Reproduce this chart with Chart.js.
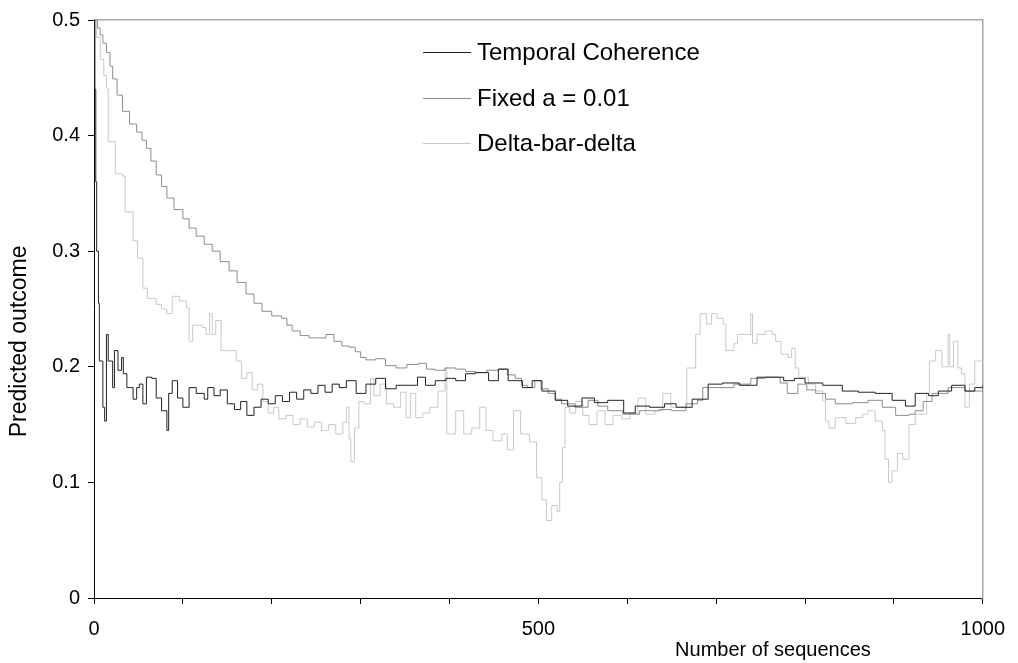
<!DOCTYPE html>
<html>
<head>
<meta charset="utf-8">
<script src="https://cdn.jsdelivr.net/npm/chart.js@4.4.1/dist/chart.umd.min.js"></script>
<style>
  html, body { margin: 0; padding: 0; background: #fff; }
  #wrap { position: relative; width: 1018px; height: 663px; }
  #legend { position: absolute; left: 423px; top: 0; font-family: "Liberation Sans", Arial, sans-serif; font-size: 24px; color: #000; }
  #legend .item { position: absolute; left: 0; height: 30px; display: flex; align-items: center; white-space: nowrap; }
  #legend .sw { display: inline-block; width: 48px; border-top: 1px solid #000; margin-right: 6px; }
</style>
</head>
<body>
<div id="wrap">
  <canvas id="chart" width="1018" height="663"></canvas>
  <div id="legend"></div>
</div>
<script>
// series (x = number of sequences, y = predicted outcome)
const seriesNames = ['Temporal Coherence', 'Fixed a = 0.01', 'Delta-bar-delta'];
const seriesColors = ['#222222', '#8c8c8c', '#c8c8c8'];

const tcX = [0, 1, 2, 3, 5, 6, 8, 10, 12, 14, 16, 19, 21, 23, 27, 31, 33, 37, 40, 44, 48, 51, 55, 59, 65, 70, 76, 82, 84, 88, 94, 100, 107, 115, 124, 128, 135, 142, 150, 158, 165, 172, 180, 188, 196, 204, 212, 220, 228, 236, 244, 252, 260, 268, 276, 284, 295, 306, 317, 328, 340, 351, 364, 373, 384, 396, 407, 418, 429, 444, 455, 466, 482, 493, 504, 519, 533, 549, 563, 578, 596, 609, 625, 642, 655, 673, 691, 707, 726, 746, 760, 776, 788, 800, 820, 842, 860, 879, 898, 913, 924, 939, 950, 965, 980, 991, 1000];
const tcY = [0.5, 0.44, 0.36, 0.3, 0.255, 0.205, 0.205, 0.165, 0.153, 0.228, 0.205, 0.205, 0.182, 0.214, 0.197, 0.208, 0.194, 0.182, 0.182, 0.172, 0.182, 0.185, 0.168, 0.191, 0.19, 0.173, 0.162, 0.145, 0.177, 0.188, 0.173, 0.165, 0.182, 0.177, 0.172, 0.182, 0.175, 0.18, 0.168, 0.163, 0.17, 0.158, 0.165, 0.172, 0.168, 0.175, 0.17, 0.178, 0.172, 0.18, 0.177, 0.184, 0.178, 0.185, 0.182, 0.188, 0.177, 0.185, 0.19, 0.181, 0.184, 0.184, 0.191, 0.184, 0.188, 0.19, 0.188, 0.194, 0.195, 0.188, 0.198, 0.188, 0.182, 0.188, 0.179, 0.171, 0.166, 0.173, 0.169, 0.171, 0.16, 0.166, 0.165, 0.168, 0.165, 0.172, 0.185, 0.186, 0.184, 0.191, 0.191, 0.188, 0.19, 0.186, 0.184, 0.179, 0.178, 0.177, 0.171, 0.166, 0.177, 0.175, 0.179, 0.184, 0.179, 0.182, 0.184];

const fixedX = [0, 4, 7, 10, 14, 18, 21, 26, 32, 40, 48, 54, 59, 64, 70, 76, 82, 90, 100, 107, 115, 124, 133, 142, 152, 161, 171, 180, 189, 200, 211, 217, 223, 232, 242, 252, 261, 270, 279, 287, 294, 300, 306, 317, 328, 340, 352, 365, 374, 384, 395, 407, 418, 429, 442, 455, 465, 474, 481, 488, 496, 503, 511, 519, 526, 541, 556, 567, 578, 595, 614, 636, 650, 658, 666, 679, 685, 700, 720, 739, 755, 772, 780, 792, 802, 812, 823, 834, 853, 871, 887, 902, 917, 924, 933, 943, 961, 980, 1000];
const fixedY = [0.5, 0.493, 0.487, 0.48, 0.472, 0.46, 0.449, 0.435, 0.421, 0.41, 0.403, 0.396, 0.389, 0.378, 0.366, 0.356, 0.346, 0.336, 0.328, 0.32, 0.313, 0.306, 0.3, 0.291, 0.283, 0.273, 0.263, 0.255, 0.248, 0.244, 0.242, 0.236, 0.231, 0.227, 0.225, 0.225, 0.228, 0.222, 0.218, 0.217, 0.213, 0.208, 0.206, 0.207, 0.201, 0.199, 0.202, 0.203, 0.198, 0.197, 0.199, 0.198, 0.196, 0.195, 0.197, 0.198, 0.193, 0.19, 0.184, 0.182, 0.188, 0.181, 0.177, 0.172, 0.168, 0.165, 0.171, 0.166, 0.162, 0.159, 0.162, 0.163, 0.162, 0.162, 0.168, 0.171, 0.182, 0.182, 0.185, 0.19, 0.191, 0.186, 0.177, 0.185, 0.18, 0.177, 0.172, 0.168, 0.169, 0.171, 0.165, 0.158, 0.159, 0.162, 0.17, 0.177, 0.182, 0.179, 0.184];

const deltaX = [0, 3, 7, 11, 14, 16, 21, 24, 32, 35, 42, 44, 49, 55, 60, 70, 76, 82, 88, 96, 104, 107, 111, 122, 126, 130, 133, 137, 143, 154, 160, 166, 172, 178, 184, 190, 196, 202, 208, 216, 224, 232, 240, 248, 256, 264, 272, 280, 284, 287, 289, 293, 298, 304, 311, 315, 322, 329, 337, 345, 351, 356, 362, 370, 378, 387, 395, 397, 407, 416, 425, 434, 441, 449, 459, 465, 472, 480, 490, 498, 504, 509, 515, 521, 524, 527, 530, 535, 542, 550, 557, 566, 575, 584, 594, 603, 612, 621, 631, 640, 649, 660, 667, 673, 677, 682, 689, 695, 701, 708, 711, 720, 724, 734, 739, 741, 746, 755, 763, 767, 773, 781, 785, 789, 793, 804, 812, 820, 823, 827, 834, 846, 857, 865, 871, 879, 887, 890, 894, 898, 904, 910, 917, 924, 933, 937, 940, 947, 954, 961, 963, 967, 972, 976, 980, 985, 991, 1000];
const deltaY = [0.5, 0.485, 0.466, 0.452, 0.441, 0.395, 0.395, 0.367, 0.365, 0.334, 0.334, 0.309, 0.294, 0.268, 0.259, 0.254, 0.25, 0.246, 0.261, 0.257, 0.251, 0.222, 0.236, 0.234, 0.228, 0.246, 0.228, 0.24, 0.214, 0.214, 0.205, 0.19, 0.195, 0.18, 0.185, 0.17, 0.16, 0.165, 0.155, 0.158, 0.15, 0.155, 0.148, 0.152, 0.145, 0.15, 0.142, 0.152, 0.165, 0.138, 0.118, 0.147, 0.17, 0.168, 0.19, 0.175, 0.185, 0.168, 0.165, 0.178, 0.156, 0.177, 0.156, 0.16, 0.165, 0.179, 0.199, 0.142, 0.162, 0.142, 0.147, 0.165, 0.145, 0.136, 0.142, 0.128, 0.162, 0.142, 0.135, 0.104, 0.085, 0.067, 0.08, 0.075, 0.1, 0.13, 0.165, 0.16, 0.17, 0.158, 0.15, 0.162, 0.15, 0.158, 0.155, 0.16, 0.173, 0.159, 0.162, 0.177, 0.165, 0.165, 0.199, 0.199, 0.228, 0.246, 0.237, 0.246, 0.242, 0.237, 0.214, 0.22, 0.228, 0.228, 0.246, 0.22, 0.228, 0.231, 0.228, 0.222, 0.211, 0.208, 0.216, 0.199, 0.191, 0.185, 0.179, 0.171, 0.153, 0.147, 0.156, 0.151, 0.156, 0.159, 0.162, 0.153, 0.145, 0.12, 0.1, 0.11, 0.125, 0.12, 0.15, 0.159, 0.159, 0.177, 0.205, 0.214, 0.2, 0.228, 0.2, 0.222, 0.199, 0.194, 0.165, 0.185, 0.205, 0.203];

const xLabels = [0, 500, 1000];
const xTitle = 'Number of sequences';
const yTitle = 'Predicted outcome';

const FONT = '"Liberation Sans", Arial, sans-serif';

function toPoints(xs, ys) {
    return xs.map((x, i) => ({ x: x, y: ys[i] }));
}

// Excel-style axis titles that sit off-centre
const axisTitlePlugin = {
    id: 'axisTitles',
    afterDraw(chart) {
        const ctx = chart.ctx;
        const x = chart.scales.x;
        const y = chart.scales.y;
        ctx.save();
        ctx.fillStyle = '#000';
        ctx.font = '20px ' + FONT;
        ctx.textAlign = 'right';
        ctx.textBaseline = 'alphabetic';
        ctx.fillText(xTitle, x.getPixelForValue(874), 656);

        ctx.font = '23px ' + FONT;
        ctx.translate(20, y.getPixelForValue(0.222));
        ctx.rotate(-Math.PI / 2);
        ctx.textAlign = 'center';
        ctx.textBaseline = 'middle';
        ctx.fillText(yTitle, 0, 0);
        ctx.restore();
    }
};

const ctx = document.getElementById('chart').getContext('2d');
const chart = new Chart(ctx, {
    type: 'line',
    data: {
        datasets: [
            { label: seriesNames[0], data: toPoints(tcX, tcY), borderColor: seriesColors[0] },
            { label: seriesNames[1], data: toPoints(fixedX, fixedY), borderColor: seriesColors[1] },
            { label: seriesNames[2], data: toPoints(deltaX, deltaY), borderColor: seriesColors[2] }
        ].map(d => Object.assign(d, {
            borderWidth: 1, pointRadius: 0, stepped: true, fill: false, xAxisID: 'x', yAxisID: 'y'
        }))
    },
    options: {
        responsive: false,
        animation: false,
        devicePixelRatio: 1,
        layout: { padding: { left: 0, top: 18, right: 30, bottom: 0 } },
        plugins: {
            legend: { display: false },
            tooltip: { enabled: false }
        },
        scales: {
            x: {
                type: 'linear', position: 'bottom', min: 0, max: 1000,
                afterFit: s => { s.height = 65; },
                ticks: {
                    stepSize: 100, autoSkip: false, maxRotation: 0, padding: 13,
                    color: '#000', font: { family: FONT, size: 20 },
                    callback: v => xLabels.includes(v) ? String(v) : ''
                },
                grid: { drawOnChartArea: false, drawTicks: true, tickLength: 6, color: '#000' },
                border: { color: '#000', width: 1 }
            },
            y: {
                type: 'linear', position: 'left', min: 0, max: 0.5,
                afterFit: s => { s.width = 94; },
                ticks: { stepSize: 0.1, padding: 8, color: '#000', font: { family: FONT, size: 20 } },
                grid: { drawOnChartArea: false, drawTicks: true, tickLength: 6, color: '#000' },
                border: { color: '#000', width: 1 }
            },
            x2: {
                type: 'linear', axis: 'x', position: 'top', min: 0, max: 1000,
                afterFit: s => { s.height = 0; },
                ticks: { display: false },
                grid: { display: false },
                border: { color: '#a8a8a8', width: 1.5 }
            },
            y2: {
                type: 'linear', axis: 'y', position: 'right', min: 0, max: 0.5,
                afterFit: s => { s.width = 0; },
                ticks: { display: false },
                grid: { display: false },
                border: { color: '#a8a8a8', width: 1.5 }
            }
        }
    },
    plugins: [axisTitlePlugin]
});

// legend inside the plot, built from the datasets
const legendRows = [52, 98, 143];
const legendEl = document.getElementById('legend');
chart.data.datasets.forEach((ds, i) => {
    const item = document.createElement('div');
    item.className = 'item';
    item.style.top = (legendRows[i] - 15) + 'px';
    const sw = document.createElement('span');
    sw.className = 'sw';
    sw.style.borderTopColor = ds.borderColor;
    const txt = document.createElement('span');
    txt.textContent = ds.label;
    item.appendChild(sw);
    item.appendChild(txt);
    legendEl.appendChild(item);
});
</script>
</body>
</html>
